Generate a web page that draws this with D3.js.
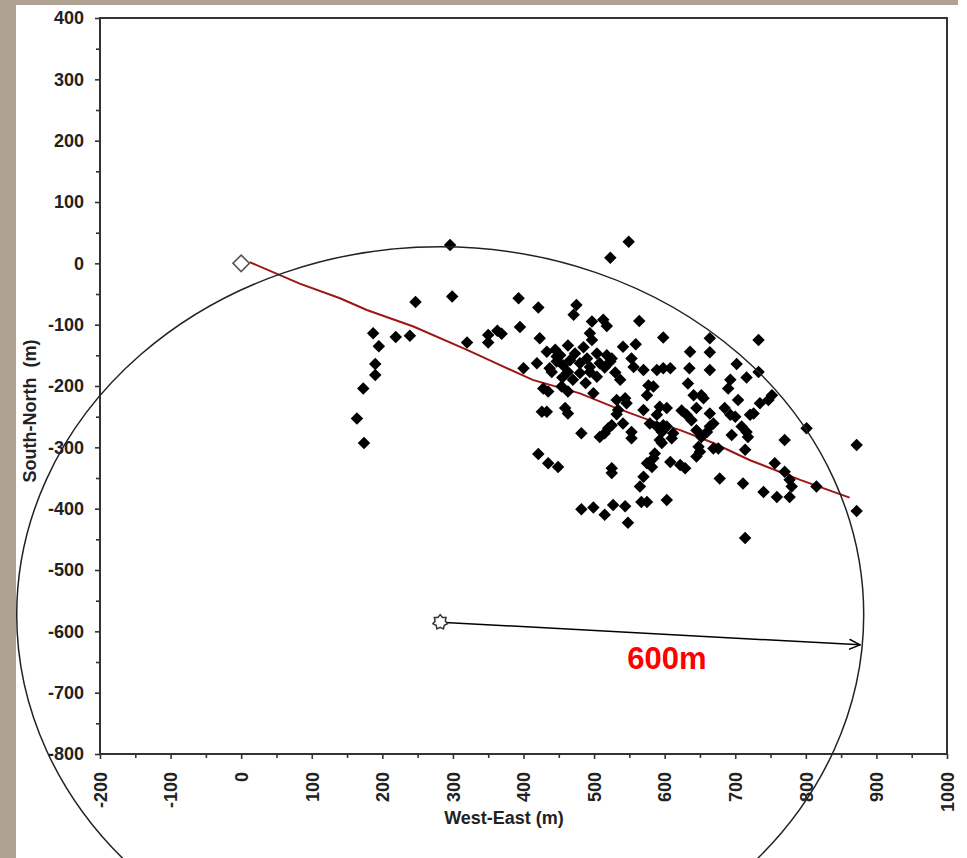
<!DOCTYPE html>
<html>
<head>
<meta charset="utf-8">
<script src="https://cdn.jsdelivr.net/npm/d3@7"></script>
<style>
html, body { margin: 0; padding: 0; background: #fff; }
svg { display: block; }
.tick text { fill: #222; }
</style>
</head>
<body>
<svg id="chart" width="967" height="858"></svg>
<script>
// axis extents and tick values (metres)
const xDomain = [-200, 1000];
const yDomain = [-800, 400];
const xMajor = d3.range(-200, 1001, 100);
const yMajor = d3.range(-800, 401, 100);
const xMinor = d3.range(-150, 1000, 100);
const yMinor = d3.range(-750, 400, 100);

const xTitle = 'West-East (m)';
const yTitle = 'South-North  (m)';

// origin of the survey and the trend through the cloud
const origin = [0, 0];
const trendLine = [
	[12, 2], [83, -33], [140, -57], [178, -76], [244, -103], [320, -141], [367, -166],
	[413, -190], [480, -212], [527, -234], [579, -256], [622, -272], [669, -293],
	[721, -321], [792, -353], [862, -382]
];

// 600 m circle around the centre marker
const centreMarker = [282, -585];
const circleCentre = [282, -573];
const circleRadius = 600;
const arrowEnd = [877, -622];
const radiusLabel = '600m';

// measured points [west-east, south-north]
const wells = [
	// left group
	[296, 30], [299, -54], [247, -63], [187, -114], [195, -135], [219, -120], [239, -118], [320, -129],
	[190, -164], [190, -182], [173, -204], [164, -253], [174, -293],
	// top
	[549, 35], [523, 9], [393, -57], [421, -72], [475, -68], [471, -84], [497, -95], [513, -92],
	[518, -102], [564, -94], [395, -104], [598, -121], [664, -122], [733, -125],
	[350, -117], [363, -110], [369, -115], [350, -129], [423, -122], [494, -114], [497, -125],
	[541, -136], [559, -132], [636, -144], [664, -145],
	// dense middle
	[433, -144], [445, -141], [463, -134], [485, -137], [504, -147], [518, -150], [525, -155],
	[419, -163], [447, -160], [456, -166], [466, -158], [480, -163], [494, -169], [508, -163],
	[523, -160], [437, -171], [447, -152], [452, -150], [473, -147], [490, -155], [515, -170],
	[470, -190], [488, -195], [530, -178], [455, -186],
	[553, -155], [556, -169], [570, -174], [589, -174], [598, -171], [608, -171], [635, -171],
	[664, -174], [400, -171],
	[440, -177], [463, -177], [480, -179], [494, -177], [504, -185], [537, -190], [584, -201],
	[577, -199], [633, -196],
	[428, -204], [435, -209], [454, -201], [463, -209], [499, -212], [532, -223], [544, -220],
	[546, -228], [575, -215],
	[641, -215], [652, -215], [655, -220], [593, -234], [603, -236], [570, -239], [624, -240],
	[631, -247], [638, -256], [664, -245],
	[534, -239], [532, -246], [426, -242], [433, -242], [459, -236], [463, -245], [525, -264],
	[520, -269], [541, -261],
	[579, -261], [589, -266], [596, -275], [603, -266], [612, -277], [645, -272], [652, -283],
	[660, -275], [669, -261],
	[482, -277], [508, -283], [515, -277], [553, -275], [553, -285], [593, -288], [596, -293],
	[648, -299], [650, -307], [669, -302],
	[421, -311], [435, -326], [449, -332], [525, -334], [525, -342], [586, -310], [584, -318],
	[575, -326], [582, -332], [608, -324],
	[622, -329], [629, -334], [570, -348], [645, -315], [565, -364],
	// right
	[702, -164], [693, -190], [690, -204], [716, -186], [733, -177], [704, -223], [752, -215],
	[747, -223], [645, -236], [589, -247], [598, -264], [664, -266], [685, -236], [693, -247],
	[700, -250], [721, -247], [726, -245], [735, -228], [709, -266], [716, -275], [718, -283],
	[695, -280], [770, -288], [801, -269], [872, -296], [676, -302], [714, -304], [610, -285],
	[678, -351], [711, -359], [756, -326], [770, -340], [777, -353], [780, -364], [740, -373],
	[759, -381], [777, -381], [815, -364], [872, -404], [714, -448],
	// bottom
	[603, -386], [482, -401], [499, -398], [527, -394], [544, -396], [515, -410], [548, -423],
	[567, -389], [575, -389]
];

const width = 967;
const height = 858;
const plot = {left: 100, right: 947, top: 18, bottom: 754};
const tan = '#b0a293';
const labelFont = '"Liberation Sans", Arial, sans-serif';

const svg = d3.select('#chart');

// page background: white sheet with a tan edge left and top
svg.append('rect').attr('width', width).attr('height', height).attr('fill', '#fff');
svg.append('rect').attr('x', 0).attr('y', 0).attr('width', 16).attr('height', height).attr('fill', tan);
svg.append('rect').attr('x', 0).attr('y', 0).attr('width', 958).attr('height', 5).attr('fill', tan);

const x = d3.scaleLinear().domain(xDomain).range([plot.left, plot.right]);
const y = d3.scaleLinear().domain(yDomain).range([plot.bottom, plot.top]);

// plain hyphen for negatives, like the original
const tickText = d => String(d);

function styleAxis(g) {
	g.select('.domain').remove();
	g.selectAll('.tick line').attr('stroke', '#333').attr('stroke-width', 1.6);
	g.attr('font-family', labelFont).attr('font-size', 18).attr('font-weight', 'bold');
}

// minor ticks
svg.append('g')
	.attr('transform', `translate(${plot.left},0)`)
	.call(d3.axisLeft(y).tickValues(yMinor).tickSize(4).tickFormat(''))
	.call(styleAxis);
svg.append('g')
	.attr('transform', `translate(0,${plot.bottom})`)
	.call(d3.axisBottom(x).tickValues(xMinor).tickSize(4).tickFormat(''))
	.call(styleAxis);

// major ticks + labels
svg.append('g')
	.attr('transform', `translate(${plot.left},0)`)
	.call(d3.axisLeft(y).tickValues(yMajor).tickSize(5).tickPadding(11).tickFormat(tickText))
	.call(styleAxis);

const xAxis = svg.append('g')
	.attr('transform', `translate(0,${plot.bottom})`)
	.call(d3.axisBottom(x).tickValues(xMajor).tickSize(5).tickFormat(tickText))
	.call(styleAxis);
xAxis.selectAll('.tick text')
	.attr('transform', 'rotate(-90)')
	.attr('text-anchor', 'end')
	.attr('x', -18)
	.attr('y', 0)
	.attr('dy', '0.35em');

// plot frame
svg.append('rect')
	.attr('x', plot.left).attr('y', plot.top)
	.attr('width', plot.right - plot.left).attr('height', plot.bottom - plot.top)
	.attr('fill', 'none').attr('stroke', '#333').attr('stroke-width', 2);

// axis titles
svg.append('text')
	.attr('x', 504).attr('y', 824)
	.attr('text-anchor', 'middle')
	.attr('font-family', labelFont).attr('font-size', 18).attr('font-weight', 'bold')
	.attr('fill', '#222')
	.text(xTitle);
svg.append('text')
	.attr('transform', 'translate(36,411) rotate(-90)')
	.attr('text-anchor', 'middle')
	.attr('font-family', labelFont).attr('font-size', 18).attr('font-weight', 'bold')
	.attr('fill', '#222')
	.style('white-space', 'pre')
	.text(yTitle);

// trend line
svg.append('path')
	.datum(trendLine)
	.attr('fill', 'none')
	.attr('stroke', '#9e1616')
	.attr('stroke-width', 2)
	.attr('d', d3.line().x(d => x(d[0])).y(d => y(d[1])));

// points (square turned 45deg)
const diamond = d3.symbol(d3.symbolSquare);
svg.append('g')
	.selectAll('path')
	.data(wells)
	.join('path')
	.attr('transform', d => `translate(${x(d[0])},${y(d[1])}) rotate(45)`)
	.attr('d', diamond.size(78)())
	.attr('fill', '#000');

// origin marker
svg.append('path')
	.attr('transform', `translate(${x(origin[0])},${y(origin[1])}) rotate(45)`)
	.attr('d', d3.symbol(d3.symbolSquare).size(135)())
	.attr('fill', '#fff')
	.attr('stroke', '#555')
	.attr('stroke-width', 1.6);

// 600 m circle (ellipse on screen since x/y scales differ)
svg.append('ellipse')
	.attr('cx', x(circleCentre[0]))
	.attr('cy', y(circleCentre[1]))
	.attr('rx', x(circleRadius) - x(0))
	.attr('ry', y(0) - y(circleRadius))
	.attr('fill', 'none')
	.attr('stroke', '#222')
	.attr('stroke-width', 1.5);

// arrow from the centre to the circle
svg.append('defs').append('marker')
	.attr('id', 'arrowhead')
	.attr('markerUnits', 'userSpaceOnUse')
	.attr('viewBox', '0 -6 12 12')
	.attr('refX', 11).attr('refY', 0)
	.attr('markerWidth', 12).attr('markerHeight', 12)
	.attr('orient', 'auto')
	.append('path')
	.attr('d', 'M0,-5L11,0L0,5')
	.attr('fill', 'none')
	.attr('stroke', '#000')
	.attr('stroke-width', 1.5);

svg.append('line')
	.attr('x1', x(centreMarker[0])).attr('y1', y(centreMarker[1]))
	.attr('x2', x(arrowEnd[0])).attr('y2', y(arrowEnd[1]))
	.attr('stroke', '#000')
	.attr('stroke-width', 1.5)
	.attr('marker-end', 'url(#arrowhead)');

// centre marker: small spiky star
const starPts = d3.range(14).map(i => [i * Math.PI / 7, i % 2 ? 5.2 : 7.5]);
svg.append('path')
	.attr('transform', `translate(${x(centreMarker[0])},${y(centreMarker[1])})`)
	.attr('d', d3.lineRadial().curve(d3.curveLinearClosed)(starPts))
	.attr('fill', '#fff')
	.attr('stroke', '#333')
	.attr('stroke-width', 1.5);

svg.append('text')
	.attr('x', 667).attr('y', 669)
	.attr('text-anchor', 'middle')
	.attr('font-family', labelFont).attr('font-size', 31).attr('font-weight', 'bold')
	.attr('fill', '#ff0000')
	.text(radiusLabel);
</script>
</body>
</html>
